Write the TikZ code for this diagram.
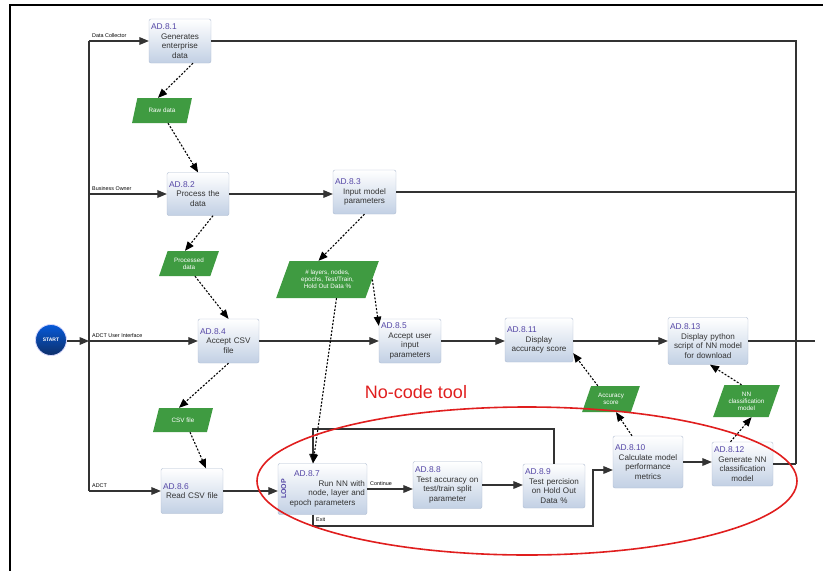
\documentclass[tikz,border=0pt]{standalone}
\usepackage{fontspec}
\setmainfont{Liberation Sans}
\usetikzlibrary{arrows, shapes.geometric}
\definecolor{idblue}{HTML}{5547A6}
\definecolor{boxline}{HTML}{AEBBD0}
\definecolor{boxfill}{HTML}{C2D0E4}
\definecolor{datagreen}{HTML}{3F9B41}
\definecolor{linegray}{HTML}{333333}
\definecolor{startblue}{HTML}{123F8C}
\definecolor{markred}{HTML}{E01E1E}
\newcommand{\actid}[1]{\hbox to \dimexpr\hsize-\leftskip\relax{\fontsize{8.4}{9}\selectfont\color{idblue}#1\hfil}}

\begin{document}
\begin{tikzpicture}[x=1pt, y=-1pt,
	act/.style={draw=boxline, rounded corners=2pt, top color=white, bottom color=boxfill, text=black!80, align=center, inner xsep=2pt, inner ysep=1pt, font=\fontsize{8.1}{9.5}\selectfont},
	data/.style={trapezium, trapezium left angle=65, trapezium right angle=115, trapezium stretches=true, fill=datagreen, text=white, align=center, inner sep=1pt, font=\fontsize{6.3}{7.1}\selectfont},
	lane/.style={font=\fontsize{5.4}{6}\selectfont, anchor=south west, inner sep=1pt},
	wire/.style={draw=linegray, line width=1.2pt},
	flow/.style={wire, -triangle 45},
	dep/.style={line width=1.1pt, dash pattern=on 2pt off 1.6pt, -triangle 45}]
	\useasboundingbox (0,0) rectangle (823,571);
	\draw [line width=2pt] (10,571) -- (10,5) -- (823,5);

	\coordinate (dc) at (89,41);
	\coordinate (bo) at (89,194);
	\coordinate (ui) at (89,341);
	\coordinate (adct) at (89,491);
	\coordinate (bartop) at (796,41);
	\coordinate (barbot) at (796,464);
	\coordinate (uiend) at (815,341);
	\coordinate (looptop) at (313,429);
	\coordinate (exitbot) at (313,526);
	\coordinate (exitturn) at (593,526);

	\node [lane] (dclbl) at (91,39) {Data Collector};
	\node [lane] (bolbl) at (91,192) {Business Owner};
	\node [lane] (uilbl) at (91,339) {ADCT User Interface};
	\node [lane] (adctlbl) at (91,489) {ADCT};

	\node [circle, minimum size=31pt, inner sep=0pt, draw=blue!15, line width=0.8pt, top color=startblue!55!cyan!60!blue, bottom color=startblue!75!black, text=white, font=\fontsize{5}{6}\selectfont\bfseries] (start) at (51,340) {START};

	\node [act, text width=58pt, minimum height=44pt] (ad1) at (180,41) {\actid{AD.8.1}\\Generates\\enterprise\\data};
	\node [act, text width=58pt, minimum height=43pt] (ad2) at (198,194) {\actid{AD.8.2}\\Process the\\data};
	\node [act, text width=59pt, minimum height=44pt] (ad3) at (364.5,192) {\actid{AD.8.3}\\Input model\\parameters};
	\node [act, text width=57pt, minimum height=44pt] (ad4) at (228.5,341) {\actid{AD.8.4}\\Accept CSV\\file};
	\node [act, text width=58pt, minimum height=44pt] (ad5) at (410,341) {\actid{AD.8.5}\\Accept user\\input\\parameters};
	\node [act, text width=64pt, minimum height=44pt] (ad11) at (539,340) {\actid{AD.8.11}\\Display\\accuracy score};
	\node [act, text width=76pt, minimum height=47pt] (ad13) at (708,341) {\actid{AD.8.13}\\Display python\\script of NN model\\for download};
	\node [act, text width=58pt, minimum height=45pt] (ad6) at (192,491) {\actid{AD.8.6}\\Read CSV file};
	\node [act, text width=85pt, minimum height=51pt, label={[rotate=90, anchor=north, text=idblue, font=\fontsize{7}{8}\selectfont\bfseries]west:LOOP}] (ad7) at (322.5,489) {\leftskip=14pt plus 1fil\actid{AD.8.7}\\Run NN with\\node, layer and\\epoch parameters};
	\node [act, text width=65pt, minimum height=47pt] (ad8) at (447.5,485) {\actid{AD.8.8}\\Test accuracy on\\test/train split\\parameter};
	\node [act, text width=58pt, minimum height=44pt] (ad9) at (554,486) {\actid{AD.8.9}\\Test percision\\on Hold Out\\Data \%};
	\node [act, text width=66pt, minimum height=52pt] (ad10) at (648,462) {\actid{AD.8.10}\\Calculate model\\performance\\metrics};
	\node [act, text width=57pt, minimum height=44pt] (ad12) at (742.5,464) {\actid{AD.8.12}\\Generate NN\\classification\\model};

	\node [data, minimum width=60pt, minimum height=25pt] (raw) at (162,110.5) {Raw data};
	\node [data, minimum width=60pt, minimum height=25pt] (proc) at (189,263.5) {Processed\\data};
	\node [data, minimum width=103pt, minimum height=37pt] (params) at (327.5,279.5) {\# layers, nodes,\\epochs, Test/Train,\\Hold Out Data \%};
	\node [data, minimum width=60pt, minimum height=24pt] (csv) at (183,420) {CSV file};
	\node [data, minimum width=58pt, minimum height=26pt] (acc) at (611,399) {Accuracy\\score};
	\node [data, minimum width=67pt, minimum height=32pt] (nn) at (746.5,401) {NN\\classification\\model};

	\node [lane] (cont) at (369,487) {Continue};
	\node [lane, anchor=west] (exitlbl) at (315,520) {Exit};

	\draw [wire] (dc) -- (adct);
	\draw [flow] (dc) -- (ad1);
	\draw [flow] (bo) -- (ad2);
	\draw [flow] (ad2.east) -- (ad2.east -| ad3.west);
	\draw [wire] (ad1.east) -- (bartop) -- (barbot);
	\draw [wire] (ad3.east) -- (ad3.east -| bartop);
	\draw [wire] (ad12.east) -- (barbot);
	\draw [flow] (start.east |- ui) -- (ui);
	\draw [flow] (ui) -- (ad4);
	\draw [flow] (ad4) -- (ad5);
	\draw [flow] (ad5.east) -- (ad5.east -| ad11.west);
	\draw [flow] (ad11.east |- ad13) -- (ad13.west);
	\draw [wire] (ad13.east) -- (uiend);
	\draw [flow] (adct) -- (ad6);
	\draw [flow] (ad6.east) -- (ad6.east -| ad7.west);
	\draw [flow] (ad7.east) -- (ad7.east -| ad8.west);
	\draw [flow] (ad8.east) -- (ad8.east -| ad9.west);
	\draw [flow] (ad10.east) -- (ad10.east -| ad12.west);
	\draw [flow] (ad9.north) |- (looptop) -- (looptop |- ad7.north);
	\draw [flow] (exitbot |- ad7.south) -- (exitbot) -- (exitturn) |- ([yshift=-8pt]ad10.west);

	\draw [dep] ([xshift=13pt]ad1.south) -- ([xshift=-4pt]raw.north);
	\draw [dep] ([xshift=6pt]raw.south) -- (ad2.north);
	\draw [dep] ([xshift=15pt]ad2.south) -- ([xshift=-4pt]proc.north);
	\draw [dep] ([xshift=6pt]proc.south) -- (ad4.north);
	\draw [dep] (ad3.south) -- ([xshift=-9pt]params.north);
	\draw [dep] (params.east) -- ([yshift=-7pt]ad5.north west);
	\draw [dep] ([xshift=9pt]params.south) -- (looptop |- ad7.north);
	\draw [dep] (ad4.south) -- ([xshift=-4pt]csv.north);
	\draw [dep] ([xshift=7pt]csv.south) -- ([xshift=14pt]ad6.north);
	\draw [dep] ([xshift=-16pt]ad10.north) -- ([xshift=5pt]acc.south);
	\draw [dep] (acc.north west) -- ([yshift=9pt]ad11.south east);
	\draw [dep] ([xshift=-12pt]ad12.north) -- ([xshift=5pt]nn.south);
	\draw [dep] ([xshift=-5pt]nn.north) -- ([xshift=2pt]ad13.south);

	\draw [markred, line width=1.6pt] (527,481) ellipse [x radius=270pt, y radius=74pt];
	\node [text=markred, font=\fontsize{18}{20}\selectfont] (nocode) at (416,392) {No-code tool};
\end{tikzpicture}
\end{document}
